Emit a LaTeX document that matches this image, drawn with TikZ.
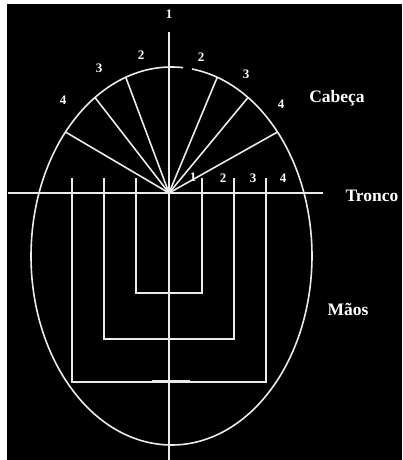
\documentclass[tikz,border=0pt]{standalone}
\usepackage{fontspec}
\setmainfont{Liberation Serif}
\usepackage{xcolor}
\usetikzlibrary{calc}

\begin{document}
\begin{tikzpicture}[x=1pt, y=1pt,
  linha/.style={draw=white!92!black, line width=1.6pt},
  rotulo/.style={text=white, font=\bfseries\fontsize{13}{13}\selectfont, inner sep=0pt},
  parte/.style={text=white, font=\bfseries\fontsize{17.5}{17.5}\selectfont, inner sep=0pt}]
  \def\cx{171.5}
  \def\cy{204}
  \def\a{140.5}
  \def\b{189}

  \fill[white] (0,0) rectangle (402,460);
  \fill[black] (7,0) rectangle (402,456);
  \useasboundingbox (0,0) rectangle (402,460);

  \coordinate (O) at (169,267);
  \coordinate (E) at (\cx,\cy);
  \coordinate (topo) at (169,428);
  \coordinate (base) at (169,0);
  \coordinate (esq) at (8,267);
  \coordinate (dir) at (323,267);

  % eixos
  \draw[linha] (topo) -- (base);
  \draw[linha] (esq) -- (dir);

  % contorno, aberto perto do topo
  \draw[linha] ($(E)+(85.3:\a pt and \b pt)$)
    arc[start angle=85.3, end angle=441.6, x radius=\a pt, y radius=\b pt];

  % raios da cabeca
  \foreach \t in {41,57,71,109,123,139} {
    \draw[linha] (O) -- ($(E)+(\t:\a pt and \b pt)$);
  }

  % maos
  \foreach \w/\fundo in {33/167, 65/121, 97/78} {
    \draw[linha] (169-\w,282) -- (169-\w,\fundo) -- (169+\w,\fundo) -- (169+\w,282);
  }
  \draw[linha, line width=3pt] (152,78) -- (190,78);

  \node[rotulo] (n1) at (169,446) {1};
  \foreach \nome/\px/\py/\txt in {e2/141/405/2, d2/201/403/2, e3/99/392/3, d3/246/386/3,
      e4/63/360/4, d4/281/356/4, t1/193/283/1, t2/223/282/2, t3/253/282/3, t4/283/282/4} {
    \node[rotulo] (\nome) at (\px,\py) {\txt};
  }

  \node[parte] (cabeca) at (337,362) {Cabeça};
  \node[parte] (tronco) at (372,264) {Tronco};
  \node[parte] (maos) at (348,151) {Mãos};
\end{tikzpicture}
\end{document}
